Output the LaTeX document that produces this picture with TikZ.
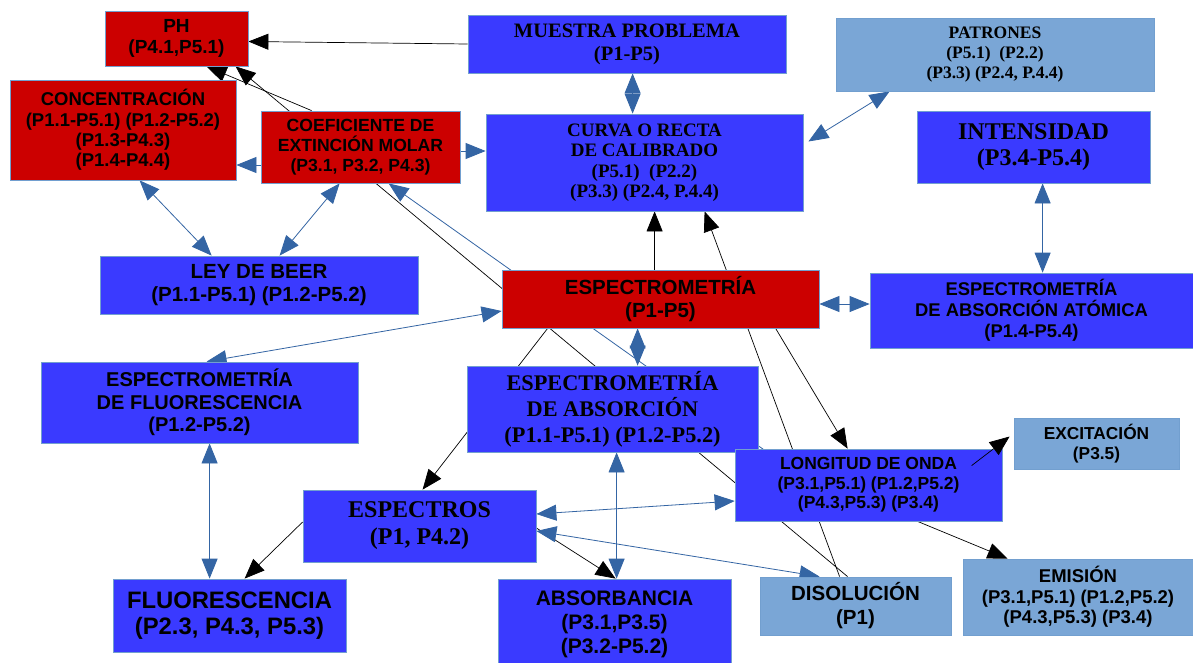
\documentclass[tikz,border=0pt]{standalone}
\usepackage{fontspec}
\setmainfont{Liberation Serif}
\setsansfont{Liberation Sans}
\definecolor{map_blue}{RGB}{58, 58, 255}
\definecolor{map_red}{RGB}{204, 0, 0}
\definecolor{map_pale}{RGB}{122, 166, 214}
\definecolor{map_edge}{RGB}{114, 159, 207}
\definecolor{map_line}{RGB}{52, 101, 164}
\usepackage{tikz}
\usetikzlibrary{arrows.meta, positioning, calc, backgrounds}
\newcommand{\fsz}[2]{\fontsize{#1}{#2}\selectfont}

\begin{document}
\begin{tikzpicture}[
    x=1pt, y=-1pt,
    box/.style={draw=map_edge, line width=0.8pt, inner sep=0pt,
                align=center, text=black},
    redbox/.style={box, fill=map_red},
    bluebox/.style={box, fill=map_blue},
    palebox/.style={box, fill=map_pale},
    sz/.style 2 args={minimum width=#1pt, minimum height=#2pt},
    sansf/.style 2 args={font=\sffamily\bfseries\fsz{#1}{#2}},
    seriff/.style 2 args={font=\rmfamily\bfseries\fsz{#1}{#2}},
    arr/.style={-{Triangle[length=20pt, width=16pt]}, black, line width=0.7pt},
    barr/.style={{Triangle[length=20pt, width=16pt]}-{Triangle[length=20pt, width=16pt]},
                 map_line, line width=0.8pt},
    barr1/.style={-{Triangle[length=20pt, width=16pt]}, map_line, line width=0.8pt},
  ]
  \useasboundingbox (0,0) rectangle (1193,662);

  % top row
  \node[redbox, sz={143}{55}, sansf={19}{21}] (ph) at (176.5,38.5) {PH\\(P4.1,P5.1)};
  \node[redbox, sz={226}{100}, sansf={18.5}{20.3}] (conc) at (123,130)
       {CONCENTRACIÓN\\(P1.1-P5.1) (P1.2-P5.2)\\(P1.3-P4.3)\\(P1.4-P4.4)};
  \node[redbox, sz={199}{72}, sansf={17.6}{19.7}] (coef) at (360.5,147)
       {COEFICIENTE DE\\EXTINCIÓN MOLAR\\(P3.1, P3.2, P4.3)};
  \node[bluebox, sz={318}{58}, seriff={20.5}{23}] (muestra) at (627,44)
       {MUESTRA PROBLEMA\\(P1-P5)};
  \node[bluebox, sz={317}{97}, seriff={19}{20.5}] (curva) at (644.5,162.5)
       {CURVA O RECTA\\DE CALIBRADO\\(P5.1)\ \ (P2.2)\\(P3.3) (P2.4, P.4.4)};
  \node[palebox, sz={318}{73}, seriff={17.5}{20}] (patrones) at (995,54.5)
       {PATRONES\\(P5.1)\ \ (P2.2)\\(P3.3) (P2.4, P.4.4)};
  \node[bluebox, sz={233}{72}, seriff={24}{26.7}] (intens) at (1033.5,147)
       {INTENSIDAD\\(P3.4-P5.4)};

  % middle row
  \node[bluebox, sz={323}{75}, sansf={18.4}{20.8}] (atomica) at (1031.5,310.5)
       {ESPECTROMETRÍA\\DE ABSORCIÓN ATÓMICA\\(P1.4-P5.4)};
  \node[bluebox, sz={318}{58}, sansf={20.5}{22.7}] (beer) at (259,285)
       {LEY DE BEER\\(P1.1-P5.1) (P1.2-P5.2)};
  \node[redbox, sz={317}{58}, sansf={20.5}{23}] (espec) at (660.5,299)
       {ESPECTROMETRÍA\\(P1-P5)};
  \node[bluebox, sz={317}{81}, sansf={20}{22.7}] (fluoresp) at (199.5,402.5)
       {ESPECTROMETRÍA\\DE FLUORESCENCIA\\(P1.2-P5.2)};
  \node[bluebox, sz={291}{86}, seriff={22.3}{25.8}] (absesp) at (612.5,409)
       {ESPECTROMETRÍA\\DE ABSORCIÓN\\(P1.1-P5.1) (P1.2-P5.2)};
  \node[bluebox, sz={267}{72}, sansf={17.5}{19.5}] (longitud) at (868.5,485)
       {LONGITUD DE ONDA\\(P3.1,P5.1) (P1.2,P5.2)\\(P4.3,P5.3) (P3.4)};
  \node[palebox, sz={165}{51}, sansf={17.3}{20.5}] (excit) at (1096.5,443.5)
       {EXCITACIÓN\\(P3.5)};

  % bottom row
  \node[palebox, sz={191}{58}, sansf={20.5}{24}] (disol) at (855.5,606)
       {DISOLUCIÓN\\(P1)};
  \node[palebox, sz={230}{76}, sansf={18.5}{20.3}] (emision) at (1078,597)
       {EMISIÓN\\(P3.1,P5.1) (P1.2,P5.2)\\(P4.3,P5.3) (P3.4)};
  \node[bluebox, sz={233}{72}, seriff={24}{27}] (espectros) at (419.5,526)
       {ESPECTROS\\(P1, P4.2)};
  \node[bluebox, sz={233}{73}, sansf={23.8}{26.7}] (fluor) at (229.5,615.5)
       {FLUORESCENCIA\\(P2.3, P4.3, P5.3)};
  \node[bluebox, sz={233}{91}, sansf={21}{24}] (absorb) at (614.5,624.5)
       {ABSORBANCIA\\(P3.1,P3.5)\\(P3.2-P5.2)};

  % connectors behind the boxes
  \begin{scope}[on background layer]
    \fill[white] (0,0) rectangle (1193,662);
    \draw[arr] (muestra.west) -- ($(ph.east)+(0,3)$);
    \draw[arr] ($(coef.north west)+(51,0)$) -- ($(ph.south west)+(102,0)$);
    \draw[arr] ($(disol.north west)+(88,0)$) -- ($(ph.south west)+(131,0)$);
    \draw[arr] ($(espec.north west)+(153,0)$) -- ($(curva.south west)+(169,0)$);
    \draw[arr] ($(disol.north west)+(80,0)$) -- ($(curva.south west)+(219,0)$);
    \draw[arr] ($(espec.south west)+(274,0)$) -- ($(longitud.north west)+(113,0)$);
    \draw[arr] ($(longitud.south west)+(183,0)$) -- ($(emision.north west)+(45,0)$);
    \draw[arr] ($(espec.south west)+(46,0)$) -- ($(espectros.north west)+(120,0)$);
    \draw[arr] ($(espectros.west)+(0,-4)$) -- ($(fluor.north west)+(132,0)$);
    \draw[arr] ($(espectros.east)+(0,2)$) -- ($(absorb.north west)+(118,0)$);

    \draw[barr] ($(muestra.south west)+(165,0)$) -- ($(curva.north west)+(147,0)$);
    \draw[barr1] ($(coef.west)+(0,18)$) -- ($(conc.east)+(0,35)$);
    \draw[barr1] ($(coef.east)+(0,4)$) -- ($(curva.west)+(0,-11.5)$);
    \draw[barr] ($(conc.south west)+(130,0)$) -- ($(beer.north west)+(112,0)$);
    \draw[barr] ($(coef.south west)+(79,0)$) -- ($(beer.north west)+(180,0)$);
    \draw[barr1] ($(longitud.west)+(79,0)$) -- ($(coef.south west)+(128,0)$);
    \draw[barr] ($(patrones.south west)+(54,0)$) -- ($(curva.east)+(5,-21)$);
    \draw[barr] ($(intens.south west)+(126,0)$) -- ($(atomica.north west)+(173,0)$);
    \draw[barr] ($(espec.east)+(0,5)$) -- ($(atomica.west)+(0,-6.5)$);
    \draw[barr] ($(espec.west)+(0,12)$) -- ($(fluoresp.north west)+(166,0)$);
    \draw[barr] ($(espec.south west)+(136,0)$) -- ($(absesp.north west)+(171,0)$);
    \draw[barr] ($(fluoresp.south west)+(169,0)$) -- ($(fluor.north west)+(97,0)$);
    \draw[barr] ($(absesp.south west)+(150,0)$) -- ($(absorb.north west)+(119,0)$);
    \draw[barr] ($(espectros.east)+(0,-12)$) -- ($(longitud.west)+(0,16)$);
    \draw[barr] ($(espectros.east)+(0,5)$) -- ($(disol.north west)+(60,0)$);
  \end{scope}

  \draw[arr] ($(longitud.north west)+(237,17)$) -- ($(excit.west)+(-4,-7)$);
\end{tikzpicture}
\end{document}
